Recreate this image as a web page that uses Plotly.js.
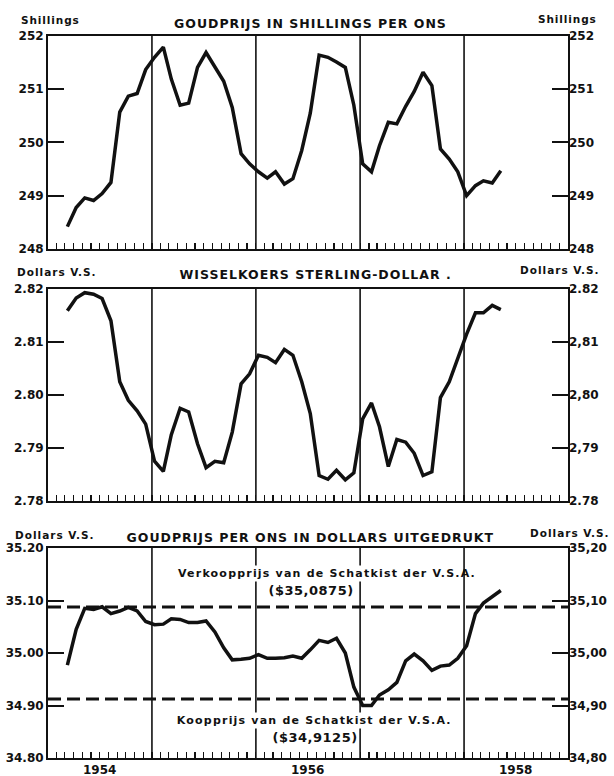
<!DOCTYPE html>
<html>
<head>
<meta charset="utf-8">
<script src="https://cdn.plot.ly/plotly-3.0.1.min.js"></script>
<style>html,body{margin:0;padding:0;background:#fff;}#chart{width:614px;height:776px;}</style>
</head>
<body>
<div id="chart"></div>
<script>
// Months (March 1954 - May 1958)
const months = ['1954-03','1954-04','1954-05','1954-06','1954-07','1954-08','1954-09','1954-10','1954-11','1954-12',
 '1955-01','1955-02','1955-03','1955-04','1955-05','1955-06','1955-07','1955-08','1955-09','1955-10','1955-11','1955-12',
 '1956-01','1956-02','1956-03','1956-04','1956-05','1956-06','1956-07','1956-08','1956-09','1956-10','1956-11','1956-12',
 '1957-01','1957-02','1957-03','1957-04','1957-05','1957-06','1957-07','1957-08','1957-09','1957-10','1957-11','1957-12',
 '1958-01','1958-02','1958-03','1958-04','1958-05'];

// Goudprijs in shillings per ons
const goldShillings = [248.42,248.78,248.96,248.91,249.04,249.25,250.57,250.87,250.92,251.37,
 251.60,251.79,251.19,250.70,250.74,251.41,251.69,251.43,251.15,250.66,249.79,249.60,
 249.45,249.33,249.45,249.22,249.32,249.85,250.55,251.64,251.60,251.51,251.41,250.70,
 249.60,249.45,249.94,250.38,250.35,250.68,250.96,251.32,251.07,249.88,249.69,249.45,
 249.00,249.19,249.28,249.24,249.47];

// Wisselkoers sterling-dollar
const sterlingDollar = [2.8159,2.8183,2.8193,2.8190,2.8182,2.8140,2.8025,2.7990,2.7970,2.7945,
 2.7875,2.7856,2.7925,2.7975,2.7968,2.7908,2.7863,2.7875,2.7872,2.7930,2.8021,2.8040,
 2.8075,2.8071,2.8061,2.8086,2.8075,2.8025,2.7965,2.7848,2.7841,2.7858,2.7840,2.7853,
 2.7955,2.7985,2.7940,2.7865,2.7916,2.7911,2.7890,2.7848,2.7855,2.7995,2.8025,2.8070,
 2.8115,2.8155,2.8155,2.8169,2.8161];

// Goudprijs per ons in dollars
const goldDollars = [34.977,35.045,35.085,35.083,35.088,35.075,35.080,35.087,35.080,35.060,
 35.054,35.055,35.065,35.064,35.058,35.058,35.061,35.040,35.010,34.987,34.988,34.990,
 34.997,34.990,34.990,34.991,34.994,34.990,35.006,35.024,35.020,35.028,35.000,34.935,
 34.900,34.900,34.920,34.930,34.944,34.985,34.998,34.985,34.967,34.975,34.977,34.990,
 35.014,35.075,35.095,35.108,35.119];

// Reference prices of the US Treasury
const treasurySell = 35.0875;
const treasuryBuy = 34.9125;

// Axis ticks
const ticks1 = [248,249,250,251,252];
const ticks1Left = ['248','249','250','251','252'];
const ticks1Right = ['248','249','250','251','252'];
const ticks2 = [2.78,2.79,2.80,2.81,2.82];
const ticks2Left = ['2.78','2.79','2.80','2.81','2.82'];
const ticks2Right = ['2.78','2,79','2,80','2,81','2.82'];
const ticks3 = [34.80,34.90,35.00,35.10,35.20];
const ticks3Left = ['34.80','34.90','35.00','35.10','35.20'];
const ticks3Right = ['34,80','34,90','35,00','35,10','35,20'];
const yearStarts = ['1955-01-01','1956-01-01','1957-01-01','1958-01-01'];
const yearLabels = ['1954','1956','1958'];
const yearLabelPos = ['1954-07-01','1956-07-01','1958-07-01'];

const xs = months.map(m => m + '-10');
const xRange = ['1954-01-01','1959-01-01'];
const FONT = 'DejaVu Sans, Liberation Sans, sans-serif';
const tickFont = {family: FONT, size: 12, color: '#111', weight: 'bold'};

const lineStyle = {color: '#111', width: 3.5, shape: 'linear'};
const traces = [
  {x: xs, y: goldShillings, xaxis: 'x', yaxis: 'y', mode: 'lines', line: lineStyle, hoverinfo: 'skip'},
  {x: xs, y: sterlingDollar, xaxis: 'x2', yaxis: 'y2', mode: 'lines', line: lineStyle, hoverinfo: 'skip'},
  {x: xs, y: goldDollars, xaxis: 'x3', yaxis: 'y3', mode: 'lines', line: lineStyle, hoverinfo: 'skip'},
  {x: xRange, y: [treasurySell, treasurySell], xaxis: 'x3', yaxis: 'y3', mode: 'lines',
   line: {color: '#111', width: 3, dash: '13px,6px'}, hoverinfo: 'skip'},
  {x: xRange, y: [treasuryBuy, treasuryBuy], xaxis: 'x3', yaxis: 'y3', mode: 'lines',
   line: {color: '#111', width: 3, dash: '13px,6px'}, hoverinfo: 'skip'},
  // invisible carriers so the right-hand (overlaying) axes are drawn
  {x: xRange, y: [248, 252], xaxis: 'x', yaxis: 'y4', mode: 'markers', marker: {opacity: 0}, hoverinfo: 'skip'},
  {x: xRange, y: [2.78, 2.82], xaxis: 'x2', yaxis: 'y5', mode: 'markers', marker: {opacity: 0}, hoverinfo: 'skip'},
  {x: xRange, y: [34.80, 35.20], xaxis: 'x3', yaxis: 'y6', mode: 'markers', marker: {opacity: 0}, hoverinfo: 'skip'}
];

function xAxis(anchor) {
  return {type: 'date', range: xRange, anchor: anchor, domain: [0, 1],
    tick0: '1954-01-01', dtick: 'M1', ticks: 'inside', ticklen: 6, tickwidth: 1.2, tickcolor: '#111',
    showticklabels: false, showline: true, linewidth: 2, linecolor: '#111', mirror: true,
    showgrid: false, zeroline: false, fixedrange: true};
}
function yLeft(domain, range, vals, text, anchorX) {
  return {domain: domain, range: range, anchor: anchorX,
    tickmode: 'array', tickvals: vals, ticktext: text, ticks: 'inside', ticklen: 16, tickwidth: 2,
    tickcolor: '#111', tickfont: tickFont, showline: true, linewidth: 2, linecolor: '#111',
    mirror: true, showgrid: false, zeroline: false, fixedrange: true};
}
function yRight(over, anchorX, range, vals, text) {
  return {overlaying: over, side: 'right', anchor: anchorX, range: range,
    tickmode: 'array', tickvals: vals, ticktext: text, ticks: 'inside', ticklen: 16, tickwidth: 2,
    tickcolor: '#111', tickfont: tickFont, showline: false, showgrid: false, zeroline: false, fixedrange: true};
}

const d1 = [0.67912, 0.95361], d2 = [0.35438, 0.62758], d3 = [0.02320, 0.29381];

const layout = {
  width: 614, height: 776, margin: {l: 48, r: 46, t: 0, b: 0},
  paper_bgcolor: '#fff', plot_bgcolor: 'rgba(0,0,0,0)', showlegend: false,
  xaxis: xAxis('y'), xaxis2: xAxis('y2'), xaxis3: xAxis('y3'),
  yaxis: yLeft(d1, [248, 252], ticks1, ticks1Left, 'x'),
  yaxis2: yLeft(d2, [2.78, 2.82], ticks2, ticks2Left, 'x2'),
  yaxis3: yLeft(d3, [34.80, 35.20], ticks3, ticks3Left, 'x3'),
  yaxis4: yRight('y', 'x', [248, 252], ticks1, ticks1Right),
  yaxis5: yRight('y2', 'x2', [2.78, 2.82], ticks2, ticks2Right),
  yaxis6: yRight('y3', 'x3', [34.80, 35.20], ticks3, ticks3Right),
  shapes: [],
  annotations: []
};

// year boundary lines in each panel
['y', 'y2', 'y3'].forEach((ya, i) => {
  const xa = ['x', 'x2', 'x3'][i];
  yearStarts.forEach(d => {
    layout.shapes.push({type: 'line', xref: xa, yref: ya + ' domain', x0: d, x1: d, y0: 0, y1: 1,
      line: {color: '#111', width: 1.6}, layer: 'below'});
  });
});

const spacing = {};
function ann(text, xpx, ypx, size, ls, opts) {
  spacing[text] = ls;
  return Object.assign({text: text, xref: 'paper', yref: 'paper',
    x: (xpx - 48) / 520, y: 1 - ypx / 776, xanchor: 'center', yanchor: 'middle', showarrow: false,
    font: {family: FONT, size: size, color: '#111', weight: 'bold'}}, opts || {});
}
layout.annotations.push(
  ann('Shillings', 50, 20, 10.5, 0.9),
  ann('Shillings', 567, 19, 10.5, 0.9),
  ann('GOUDPRIJS IN SHILLINGS PER ONS', 310, 23, 12.5, 1),
  ann('Dollars V.S.', 57, 272, 10.5, 1),
  ann('Dollars V.S.', 560, 270, 10.5, 1),
  ann('WISSELKOERS STERLING-DOLLAR .', 315, 274, 12.5, 1),
  ann('Dollars V.S.', 55, 535, 10.5, 1),
  ann('Dollars V.S.', 570, 533, 10.5, 1),
  ann('GOUDPRIJS PER ONS IN DOLLARS UITGEDRUKT', 310, 537, 12.5, 1),
  ann('Verkoopprijs van de Schatkist der V.S.A.', 327, 573, 11, 1.2, {bgcolor: '#fff'}),
  ann('($35,0875)', 311, 590, 13, 0.5, {bgcolor: '#fff'}),
  ann('Koopprijs van de Schatkist der V.S.A.', 314, 720, 11, 1.2, {bgcolor: '#fff'}),
  ann('($34,9125)', 315, 737, 13, 0.5, {bgcolor: '#fff'})
);
yearLabels.forEach((t, i) => {
  layout.annotations.push({text: t, xref: 'x3', yref: 'paper', x: yearLabelPos[i], y: 1 - 770 / 776,
    xanchor: 'center', yanchor: 'middle', showarrow: false,
    font: {family: FONT, size: 12, color: '#111', weight: 'bold'}});
});

Plotly.newPlot('chart', traces, layout, {staticPlot: true, displayModeBar: false}).then(gd => {
  gd.querySelectorAll('.annotation-text').forEach(el => {
    const ls = spacing[el.textContent];
    if (ls) el.style.letterSpacing = ls + 'px';
  });
});
</script>
</body>
</html>
